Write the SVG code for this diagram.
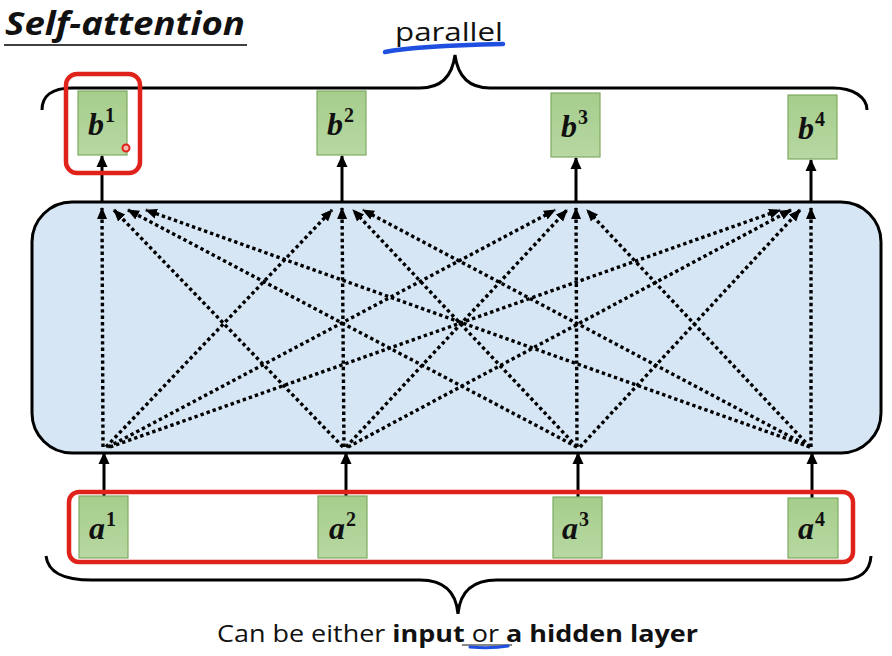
<svg xmlns="http://www.w3.org/2000/svg" width="892" height="656" viewBox="0 0 892 656">
<style>
.vec{fill:url(#g);stroke:#7fab62;stroke-width:1.2}
.m{font-family:"Liberation Serif","DejaVu Serif",serif;font-weight:bold;font-style:italic;font-size:32px;fill:#111}
.sup{font-size:20px;font-style:normal}
.dot{stroke:#000;stroke-width:3.4;stroke-dasharray:3.4 3;fill:none;marker-end:url(#ah)}
.sol{stroke:#000;stroke-width:3;fill:none;marker-end:url(#ah2)}
.brace{stroke:#000;stroke-width:3;fill:none}
.red{fill:none;stroke:#e0231a;stroke-width:4.5}
.txt{font-family:"Open Sans","Liberation Sans",sans-serif;fill:#111}
</style>
<defs>
<linearGradient id="g" x1="0" y1="0" x2="0" y2="1">
<stop offset="0" stop-color="#a6cd8c"/>
<stop offset="1" stop-color="#b7d8a2"/>
</linearGradient>
<marker id="ah" markerUnits="userSpaceOnUse" markerWidth="12" markerHeight="12" viewBox="0 0 12 12" refX="11" refY="6" orient="auto">
<path d="M0,1 L12,6 L0,11 Z" fill="#000"/>
</marker>
<marker id="ah2" markerUnits="userSpaceOnUse" markerWidth="12" markerHeight="12" viewBox="0 0 12 12" refX="11" refY="6" orient="auto">
<path d="M0,0.5 L12,6 L0,11.5 Z" fill="#000"/>
</marker>
</defs>
<rect width="892" height="656" fill="#fff"/>

<g id="title">
<text x="5" y="35" class="txt" font-size="32" font-weight="bold" font-style="italic" textLength="240" lengthAdjust="spacingAndGlyphs">Self-attention</text>
<line x1="4" y1="45" x2="247" y2="45" stroke="#000" stroke-width="1.5"/>
</g>

<g id="parallel">
<text x="395" y="41" class="txt" font-size="26" textLength="108" lengthAdjust="spacingAndGlyphs">parallel</text>
<path d="M385,52 C410,47 460,45 503,44" stroke="#1f4fe0" stroke-width="4.5" fill="none" stroke-linecap="round"/>
</g>

<g id="top-brace">
<path class="brace" d="M42,110 C42,96 52,88 72,88 L420,88 C440,88 452,78 455,55 C458,78 470,88 490,88 L833,88 C853,88 867,97 867,110"/>
</g>

<g id="self-attention-layer">
<rect x="32" y="202" width="849" height="251" rx="40" ry="40" fill="#d6e6f5" stroke="#000" stroke-width="3"/>
</g>

<g id="connectors">
<!-- a -> layer -->
<line class="sol" x1="104" y1="496" x2="104" y2="453"/>
<line class="sol" x1="346" y1="496" x2="346" y2="453"/>
<line class="sol" x1="578" y1="497" x2="578" y2="453"/>
<line class="sol" x1="812" y1="498" x2="812" y2="453"/>
<!-- layer -> b -->
<line class="sol" x1="102" y1="201" x2="102" y2="156"/>
<line class="sol" x1="342" y1="201" x2="342" y2="156"/>
<line class="sol" x1="576" y1="201" x2="576" y2="158"/>
<line class="sol" x1="811" y1="201" x2="811" y2="160"/>
<!-- dotted attention -->
<line class="dot" x1="103" y1="447" x2="102" y2="208"/>
<line class="dot" x1="343" y1="447" x2="114" y2="210"/>
<line class="dot" x1="577" y1="447" x2="128" y2="210"/>
<line class="dot" x1="810" y1="447" x2="146" y2="210"/>

<line class="dot" x1="106" y1="447" x2="332" y2="210"/>
<line class="dot" x1="344" y1="447" x2="342" y2="208"/>
<line class="dot" x1="577" y1="447" x2="353" y2="210"/>
<line class="dot" x1="810" y1="447" x2="363" y2="210"/>

<line class="dot" x1="108" y1="447" x2="555" y2="210"/>
<line class="dot" x1="346" y1="447" x2="567" y2="210"/>
<line class="dot" x1="577" y1="447" x2="576" y2="208"/>
<line class="dot" x1="810" y1="447" x2="587" y2="210"/>

<line class="dot" x1="110" y1="447" x2="780" y2="210"/>
<line class="dot" x1="348" y1="447" x2="791" y2="210"/>
<line class="dot" x1="580" y1="447" x2="800" y2="210"/>
<line class="dot" x1="811" y1="447" x2="811" y2="208"/>
</g>

<g id="b1">
<rect class="vec" x="78" y="91" width="49" height="64"/>
<text class="m" x="88" y="135">b<tspan class="sup" dx="1" dy="-13">1</tspan></text>
</g>
<g id="b2">
<rect class="vec" x="317" y="91" width="49" height="64"/>
<text class="m" x="327" y="135">b<tspan class="sup" dx="1" dy="-13">2</tspan></text>
</g>
<g id="b3">
<rect class="vec" x="551" y="93" width="49" height="64"/>
<text class="m" x="561" y="137">b<tspan class="sup" dx="1" dy="-13">3</tspan></text>
</g>
<g id="b4">
<rect class="vec" x="788" y="95" width="49" height="64"/>
<text class="m" x="798" y="139">b<tspan class="sup" dx="1" dy="-13">4</tspan></text>
</g>
<g id="b1-highlight">
<rect class="red" x="66" y="74" width="74" height="99" rx="11" ry="11"/>
<circle cx="126" cy="148" r="3.5" fill="#f4b8b0" stroke="#e0231a" stroke-width="2"/>
</g>

<g id="a1">
<rect class="vec" x="79" y="496" width="49" height="62"/>
<text class="m" x="89" y="539">a<tspan class="sup" dx="1" dy="-13">1</tspan></text>
</g>
<g id="a2">
<rect class="vec" x="318" y="496" width="49" height="62"/>
<text class="m" x="329" y="539">a<tspan class="sup" dx="1" dy="-13">2</tspan></text>
</g>
<g id="a3">
<rect class="vec" x="553" y="497" width="49" height="61"/>
<text class="m" x="562" y="539">a<tspan class="sup" dx="1" dy="-13">3</tspan></text>
</g>
<g id="a4">
<rect class="vec" x="788" y="498" width="50" height="60"/>
<text class="m" x="798" y="539">a<tspan class="sup" dx="1" dy="-13">4</tspan></text>
</g>
<g id="a-highlight">
<rect class="red" x="69" y="492" width="784" height="70" rx="10" ry="10"/>
</g>

<g id="bottom-brace">
<path class="brace" d="M46,556 C48,572 62,580 92,580 L420,580 C442,580 456,590 458,614 C460,590 474,580 497,580 L840,580 C860,580 870,572 871,556"/>
</g>

<g id="caption">
<text class="txt" x="217" y="642" font-size="23" textLength="481" lengthAdjust="spacingAndGlyphs">Can be either <tspan font-weight="bold">input</tspan> or <tspan font-weight="bold">a hidden layer</tspan></text>
<line x1="462" y1="645" x2="512" y2="645" stroke="#111" stroke-width="1.2"/>
<path d="M470,647 C482,648 496,648 508,646" stroke="#1f4fe0" stroke-width="3" fill="none" stroke-linecap="round"/>
</g>
</svg>
